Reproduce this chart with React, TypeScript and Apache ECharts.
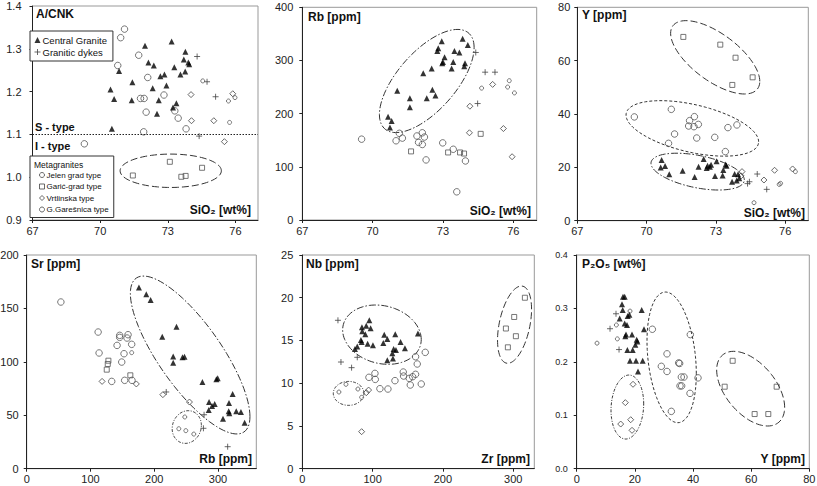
import React, { useEffect, useRef } from "react";
import * as echarts from "echarts";

type Pt = [number, number];
type Ell = [number, number, number, number, number]; // cx, cy, halfX, halfY, corr

// ---------- Panel 1: A/CNK vs SiO2 ----------
const p1Central: Pt[] = [[71.99,1.307],[73.17,1.317],[73.78,1.293],[73.71,1.275],[72.14,1.268],[72.38,1.261],[73.29,1.257],[73.91,1.268],[73.95,1.264],[73.77,1.247],[73.56,1.240],[72.67,1.236],[72.85,1.240],[70.84,1.248],[71.43,1.222],[72.94,1.214],[70.46,1.205],[72.33,1.208],[70.62,1.183],[71.40,1.180],[72.60,1.180],[73.38,1.173],[73.23,1.163],[72.52,1.148],[70.52,1.113]];
const p1Dykes: Pt[] = [[74.30,1.282],[74.74,1.223],[75.12,1.188],[74.39,1.096]];
const p1Jelen: Pt[] = [[71.08,1.346],[70.91,1.326],[71.71,1.285],[70.78,1.261],[72.11,1.233],[71.79,1.184],[71.95,1.184],[72.83,1.192],[72.04,1.152],[73.31,1.155],[73.46,1.138],[73.81,1.113],[71.93,1.106],[69.30,1.078]];
const p1Garic: Pt[] = [[71.45,1.004],[73.09,1.036],[73.60,1.001],[73.79,1.003],[74.52,1.022]];
const p1Vrt: Pt[] = [[74.03,1.193],[74.05,1.132],[75.04,1.132],[75.51,1.083],[75.88,1.195]];
const p1Gares: Pt[] = [[74.55,1.225],[75.69,1.178],[75.98,1.186],[75.74,1.128]];
const p1Ellipses: Ell[] = [[73.13,1.015,2.245,0.039,0]];

// ---------- Panel 2: Rb vs SiO2 ----------
const p2Central: Pt[] = [[73.84,341],[72.95,336],[74.06,329],[72.80,323],[72.76,318],[73.49,318],[73.70,315],[73.07,306],[73.00,297],[72.97,295],[73.44,297],[72.52,285],[73.94,295],[73.91,289],[73.37,285],[72.16,276],[71.05,243],[72.55,245],[72.68,234],[72.31,229],[71.59,229],[71.59,212],[70.66,194],[70.81,186],[70.74,174]];
const p2Dykes: Pt[] = [[74.40,315],[74.80,278],[75.22,278],[74.48,219]];
const p2Jelen: Pt[] = [[69.53,152],[71.14,163],[71.00,149],[71.27,154],[71.89,158],[71.96,146],[72.12,164],[72.21,156],[72.12,142],[72.28,113],[72.99,145],[73.44,133],[73.96,111],[73.59,53]];
const p2Garic: Pt[] = [[71.64,129],[73.22,127],[73.73,127],[73.90,125],[74.61,162]];
const p2Vrt: Pt[] = [[74.15,214],[74.13,164],[75.12,255],[75.58,172],[75.95,119]];
const p2Gares: Pt[] = [[74.65,248],[75.83,262],[75.76,250],[76.05,239]];
const p2Ellipses: Ell[] = [[72.31,261.4,2.02,97,0.65]];

// ---------- Panel 3: Y vs SiO2 ----------
const p3Central: Pt[] = [[70.65,22.75],[70.80,20.5],[70.61,19.9],[70.98,17.4],[71.56,18.75],[72.08,16.4],[72.47,23.1],[72.25,20.25],[72.64,20.6],[72.74,20.25],[72.79,21],[72.60,19.75],[73.03,22.25],[72.96,16.75],[73.32,19],[73.29,16.9],[73.42,21.1],[73.46,20.6],[73.81,17.5],[73.70,14.6],[73.96,17.4],[74.01,15.9],[73.90,15.1]];
const p3Dykes: Pt[] = [[74.79,17.5],[74.45,14.6],[74.37,13.9],[75.20,11.75]];
const p3Jelen: Pt[] = [[69.47,38.9],[71.07,41.75],[71.21,32.5],[70.95,29],[72.07,39],[71.86,37.5],[71.82,35.5],[72.05,35.25],[72.24,36.1],[72.17,31],[72.95,31.25],[73.52,34.9],[73.91,35.9],[73.41,25.9]];
const p3Garic: Pt[] = [[71.59,68.9],[73.19,66.0],[73.85,61.1],[74.59,53.75],[73.71,50.9]];
const p3Vrt: Pt[] = [[74.13,18.4],[74.09,16.8],[75.08,15.25],[75.54,18.9],[76.32,19.4]];
const p3Gares: Pt[] = [[74.65,6.75],[75.74,13.6],[75.80,14.0],[76.44,18.4]];
const p3EllGaric: Ell[] = [[72.97,61.25,1.93,13.75,-0.655]];
const p3EllJelen: Ell[] = [[71.98,34.6,2.87,10.4,-0.48]];
const p3EllCentral: Ell[] = [[72.21,18.4,2.02,6.9,-0.45]];

// ---------- Panel 4: Sr vs Rb ----------
const p4Central: Pt[] = [[176,169.7],[187.5,163.2],[194.3,157.9],[212.5,123.6],[234.9,132.9],[229.7,105.1],[229.7,99.2],[244.3,104.2],[247.4,104.8],[275.5,81.1],[297.4,83.6],[299.5,84.6],[322.9,69.9],[317.2,61.5],[285.9,62.4],[290.6,58.7],[294.8,60.5],[285.4,54.9],[316.7,53.7],[317.7,51.8],[328.6,53.7],[335.9,53.0],[341.7,43.1],[307.8,46.8]];
const p4Dykes: Pt[] = [[218.8,71.8],[278.1,50.5],[277.1,37.8],[315.1,20.6]];
const p4Jelen: Pt[] = [[53.6,156],[112,127.9],[113.5,108.3],[141.7,115.4],[145.8,124.8],[145.8,122.9],[158.9,125.4],[157.3,122.3],[152.6,107.6],[164.6,116.4],[149,99.8],[133.3,81.7],[153.6,82.7],[165.1,82.7]];
const p4Garic: Pt[] = [[128.1,101.1],[127.1,98],[125.5,92.7],[162.5,87.4]];
const p4Vrt: Pt[] = [[118.2,81.7],[171.9,79.3],[213.5,69.3],[255.2,62.4]];
const p4Gares: Pt[] = [[164.6,108.6],[247.9,48.4],[238.5,37.4],[249.5,35.6],[262,32.4]];
const p4EllCentral: Ell[] = [[256.3,106.4,93.75,73.9,-0.78]];
const p4EllGares: Ell[] = [[251,39,22.9,15.3,0.1]];

// ---------- Panel 5: Nb vs Zr ----------
const p5Central: Pt[] = [[95.3,17.36],[84.8,16.54],[85.3,16.07],[91,16.73],[97.2,16.42],[83.4,15.05],[84.4,14.82],[89.6,15.72],[92.9,14.63],[100.5,14.43],[78.2,14.31],[74.9,14.0],[116.6,15.68],[120.9,15.17],[132.2,15.72],[115.2,14.7],[139.8,14.82],[146,14.08],[129.9,14.0],[128,13.5],[128.9,12.9],[120.9,12.7],[164.5,15.83],[133.2,13.9]];
const p5Dykes: Pt[] = [[50.7,17.36],[55,12.48],[70.1,11.82],[78.2,13.03]];
const p5Jelen: Pt[] = [[94.8,10.69],[103.3,11.15],[103.8,10.45],[110.4,9.36],[121.8,9.32],[131.8,10.3],[143.6,11.31],[144.1,10.84],[152.1,10.57],[153.6,9.79],[156.9,10.76],[161.1,11.04],[161.1,13.1],[163.5,12.25],[174.9,13.61],[169.2,9.91]];
const p5Garic: Pt[] = [[316.6,20.0],[301.4,17.75],[289.6,16.4],[303.8,15.5],[292.4,14.2]];
const p5Vrt: Pt[] = [[91,8.89],[94.3,9.2],[84.4,4.33]];
const p5Gares: Pt[] = [[52.1,8.97],[62.1,9.87],[79.1,9.32],[84.4,8.35]];
const p5EllCentral: Ell[] = [[113.3,15.68,55.9,3.47,-0.16]];
const p5EllGaric: Ell[] = [[301.9,16.85,24.2,4.52,0.4]];
const p5EllGares: Ell[] = [[65.9,8.81,21.8,1.4,0]];

// ---------- Panel 6: P2O5 vs Y ----------
const p6Central: Pt[] = [[15.93,0.322],[16.5,0.322],[15.59,0.3076],[15.82,0.297],[22.35,0.297],[14.79,0.281],[17.54,0.286],[18.11,0.288],[16.5,0.272],[17.31,0.269],[23.15,0.261],[19.03,0.251],[16.73,0.248],[16.96,0.251],[20.63,0.2415],[20.86,0.238],[20.17,0.232],[19.26,0.222],[17.42,0.222],[18.34,0.202],[20.4,0.202],[22.69,0.202],[21.09,0.182]];
const p6Dykes: Pt[] = [[11.46,0.262],[13.52,0.29],[14.56,0.223]];
const p6Jelen: Pt[] = [[26.02,0.261],[39.08,0.251],[31.06,0.215],[29.11,0.1916],[31.06,0.182],[35.07,0.198],[35.4,0.197],[35.99,0.1716],[36.9,0.1716],[35.53,0.155],[36.1,0.155],[41.72,0.17],[38.97,0.141],[32.55,0.1073]];
const p6Garic: Pt[] = [[53.64,0.202],[50.89,0.1535],[68.77,0.1535],[61.2,0.1023],[65.9,0.1023]];
const p6Vrt: Pt[] = [[19.37,0.158],[16.73,0.1236],[18.57,0.0917],[15.13,0.0836],[19.03,0.0718]];
const p6Gares: Pt[] = [[6.99,0.235],[13.64,0.269],[13.98,0.243],[18.34,0.295]];
const p6EllVrt: Ell[] = [[17.42,0.1154,5.62,0.0599,0.1]];
const p6EllJelen: Ell[] = [[32.66,0.2084,8.48,0.1223,-0.25]];
const p6EllGaric: Ell[] = [[59.83,0.1498,11.69,0.0699,-0.5]];

// ---------- tick labels ----------
const sio2Ticks = [67, 70, 73, 76];
const rbTicks = [0, 100, 200, 300];
const zrTicks = [0, 100, 200, 300];
const yTicks6 = [0, 20, 40, 60, 80];

const FONT = "'Liberation Sans', Arial, Helvetica, sans-serif";
const PLUS = "path://M0,5H10M5,0V10";

const NAMES = {
  central: "Central Granite",
  dykes: "Granitic dykes",
  jelen: "Jelen grad type",
  garic: "Garić-grad type",
  vrt: "Vrtlinska type",
  gares: "G.Garešnica type",
};

const STYLE: Record<string, any> = {
  central: { symbol: "triangle", symbolSize: 6, itemStyle: { color: "#000", borderWidth: 0 } },
  dykes: { symbol: PLUS, symbolSize: 6, itemStyle: { color: "transparent", borderColor: "#444", borderWidth: 1 } },
  jelen: { symbol: "circle", symbolSize: 6.5, itemStyle: { color: "transparent", borderColor: "#555", borderWidth: 1 } },
  garic: { symbol: "rect", symbolSize: 5, itemStyle: { color: "transparent", borderColor: "#555", borderWidth: 1 } },
  vrt: { symbol: "diamond", symbolSize: 6, itemStyle: { color: "transparent", borderColor: "#444", borderWidth: 1 } },
  gares: { symbol: "circle", symbolSize: 4, itemStyle: { color: "transparent", borderColor: "#555", borderWidth: 1 } },
};

const DASH_LONG = [7, 3];
const DASH_SHORT = [3, 2];
const DASH_DOT = [7, 2, 1.5, 2];
const DASH_DOT2 = [3, 1.5, 1, 1.5];

function scatter(key: string, data: Pt[], gi: number, extra: any = {}) {
  return {
    type: "scatter",
    name: (NAMES as any)[key],
    xAxisIndex: gi,
    yAxisIndex: gi,
    data,
    ...STYLE[key],
    emphasis: { disabled: true },
    z: key === "central" ? 3 : 2,
    ...extra,
  };
}

function ellipse(data: Ell[], gi: number, dash: number[]) {
  return {
    type: "custom",
    xAxisIndex: gi,
    yAxisIndex: gi,
    data,
    silent: true,
    z: 1,
    renderItem: (params: any, api: any) => {
      const cx = api.value(0), cy = api.value(1), hx = api.value(2), hy = api.value(3), r = api.value(4);
      const s = Math.sqrt(1 - r * r);
      const pts: number[][] = [];
      for (let i = 0; i <= 96; i++) {
        const t = (2 * Math.PI * i) / 96;
        pts.push(api.coord([cx + hx * Math.cos(t), cy + hy * (r * Math.cos(t) + s * Math.sin(t))]));
      }
      return {
        type: "polyline",
        shape: { points: pts },
        style: { fill: "none", stroke: "#333", lineWidth: 1, lineDash: dash },
      };
    },
  };
}

const grids = [
  { left: 32.5, top: 6, width: 225.5, height: 214 },
  { left: 302.3, top: 7.3, width: 234.4, height: 212.7 },
  { left: 577.3, top: 7.3, width: 231, height: 213.4 },
  { left: 26.7, top: 255, width: 229.6, height: 213.7 },
  { left: 302.3, top: 255, width: 232, height: 213.7 },
  { left: 576.7, top: 255, width: 232.6, height: 213.7 },
];

function xAxis(gi: number, min: number, max: number, interval: number, ticks: number[]) {
  return {
    type: "value",
    gridIndex: gi,
    min,
    max,
    interval,
    axisLine: { show: true, onZero: false, lineStyle: { color: "#222", width: 1 } },
    axisTick: { show: true, length: 3, customValues: ticks, lineStyle: { color: "#222" } },
    axisLabel: { customValues: ticks, fontSize: 11, color: "#222", fontFamily: FONT, margin: 5 },
    splitLine: { show: false },
  };
}

function yAxis(gi: number, min: number, max: number, interval: number, opts: any = {}) {
  return {
    type: "value",
    gridIndex: gi,
    min,
    max,
    interval,
    axisLine: { show: true, onZero: false, lineStyle: { color: "#222", width: 1 } },
    axisTick: { show: true, length: 3, lineStyle: { color: "#222" } },
    axisLabel: {
      fontSize: opts.fontSize || 11,
      color: "#222",
      fontFamily: FONT,
      margin: opts.margin || 8,
      formatter: opts.formatter,
    },
    splitLine: { show: false },
  };
}

function label(text: string, x: number, y: number, align: string = "left", size = 12) {
  return {
    type: "text",
    x,
    y,
    z: 100,
    style: {
      text,
      fontSize: size,
      fontWeight: "bold",
      fontFamily: FONT,
      fill: "#111",
      align,
      verticalAlign: "middle",
    },
  };
}

const fix1 = (v: number) => v.toFixed(1);

export default function App() {
  const ref = useRef<HTMLDivElement>(null);
  useEffect(() => {
    if (!ref.current) return;
    const chart = echarts.init(ref.current, undefined, { renderer: "svg" });
    const series: any[] = [
      // panel 1
      scatter("central", p1Central, 0, {
        markLine: {
          silent: true,
          symbol: ["none", "none"],
          label: { show: false },
          lineStyle: { type: [1.5, 1.5], color: "#222", width: 1 },
          data: [{ yAxis: 1.1 }],
        },
      }),
      scatter("dykes", p1Dykes, 0),
      scatter("jelen", p1Jelen, 0),
      scatter("garic", p1Garic, 0),
      scatter("vrt", p1Vrt, 0),
      scatter("gares", p1Gares, 0),
      ellipse(p1Ellipses, 0, DASH_LONG),
      // panel 2
      scatter("central", p2Central, 1),
      scatter("dykes", p2Dykes, 1),
      scatter("jelen", p2Jelen, 1),
      scatter("garic", p2Garic, 1),
      scatter("vrt", p2Vrt, 1),
      scatter("gares", p2Gares, 1),
      ellipse(p2Ellipses, 1, DASH_DOT),
      // panel 3
      scatter("central", p3Central, 2),
      scatter("dykes", p3Dykes, 2),
      scatter("jelen", p3Jelen, 2),
      scatter("garic", p3Garic, 2),
      scatter("vrt", p3Vrt, 2),
      scatter("gares", p3Gares, 2),
      ellipse(p3EllGaric, 2, DASH_LONG),
      ellipse(p3EllJelen, 2, DASH_SHORT),
      ellipse(p3EllCentral, 2, DASH_DOT),
      // panel 4
      scatter("central", p4Central, 3),
      scatter("dykes", p4Dykes, 3),
      scatter("jelen", p4Jelen, 3),
      scatter("garic", p4Garic, 3),
      scatter("vrt", p4Vrt, 3),
      scatter("gares", p4Gares, 3),
      ellipse(p4EllCentral, 3, DASH_DOT),
      ellipse(p4EllGares, 3, DASH_DOT2),
      // panel 5
      scatter("central", p5Central, 4),
      scatter("dykes", p5Dykes, 4),
      scatter("jelen", p5Jelen, 4),
      scatter("garic", p5Garic, 4),
      scatter("vrt", p5Vrt, 4),
      scatter("gares", p5Gares, 4),
      ellipse(p5EllCentral, 4, DASH_DOT),
      ellipse(p5EllGaric, 4, DASH_LONG),
      ellipse(p5EllGares, 4, DASH_DOT2),
      // panel 6
      scatter("central", p6Central, 5),
      scatter("dykes", p6Dykes, 5),
      scatter("jelen", p6Jelen, 5),
      scatter("garic", p6Garic, 5),
      scatter("vrt", p6Vrt, 5),
      scatter("gares", p6Gares, 5),
      ellipse(p6EllVrt, 5, DASH_DOT2),
      ellipse(p6EllJelen, 5, DASH_SHORT),
      ellipse(p6EllGaric, 5, DASH_LONG),
    ];

    const openStyle = { color: "transparent", borderColor: "#444", borderWidth: 1 };

    chart.setOption({
      animation: false,
      backgroundColor: "#fff",
      grid: grids.map((g) => ({
        ...g,
        show: true,
        borderColor: "#999",
        borderWidth: 1,
        backgroundColor: "transparent",
        containLabel: false,
        outerBoundsMode: "none",
      })),
      xAxis: [
        xAxis(0, 67, 77, 1, sio2Ticks),
        xAxis(1, 67, 77, 1, sio2Ticks),
        xAxis(2, 67, 77, 1, sio2Ticks),
        xAxis(3, 0, 360, 20, rbTicks),
        xAxis(4, 0, 330, 10, zrTicks),
        xAxis(5, 0, 80, 20, yTicks6),
      ],
      yAxis: [
        yAxis(0, 0.9, 1.4, 0.1, { formatter: fix1, margin: 11 }),
        yAxis(1, 0, 400, 100, { margin: 9 }),
        yAxis(2, 0, 80, 20, { margin: 7 }),
        yAxis(3, 0, 200, 50, { margin: 8 }),
        yAxis(4, 0, 25, 5, { margin: 9 }),
        yAxis(5, 0, 0.4, 0.1, { formatter: fix1, fontSize: 9, margin: 9 }),
      ],
      legend: [
        {
          orient: "vertical",
          left: 30,
          top: 31,
          padding: [4, 6, 4, 4],
          itemWidth: 6,
          itemHeight: 6,
          itemGap: 2,
          borderColor: "#333",
          borderWidth: 1,
          backgroundColor: "#fff",
          selectedMode: false,
          textStyle: { fontSize: 9.5, fontFamily: FONT, color: "#111", lineHeight: 10, padding: [0, 0, 0, -3] },
          data: [
            { name: NAMES.central, icon: "triangle", itemStyle: { color: "#000", borderWidth: 0 } },
            { name: NAMES.dykes, icon: PLUS, itemStyle: openStyle },
          ],
        },
        {
          orient: "vertical",
          left: 30,
          top: 156,
          padding: [14, 5, 3, 9],
          itemWidth: 5,
          itemHeight: 5,
          itemGap: 1.5,
          borderColor: "#333",
          borderWidth: 1,
          backgroundColor: "#fff",
          selectedMode: false,
          textStyle: { fontSize: 8, fontFamily: FONT, color: "#111", lineHeight: 10, padding: [0, 0, 0, -3] },
          data: [
            { name: NAMES.jelen, icon: "circle", itemStyle: openStyle },
            { name: NAMES.garic, icon: "rect", itemStyle: openStyle },
            { name: NAMES.vrt, icon: "diamond", itemStyle: openStyle },
            { name: NAMES.gares, icon: "circle", itemStyle: openStyle },
          ],
        },
      ],
      graphic: [
        label("A/CNK", 36, 14),
        label("SiO₂ [wt%]", 251, 209.5, "right"),
        label("S - type", 35, 127, "left", 11),
        label("I - type", 35, 145.5, "left", 11),
        {
          type: "text",
          x: 34,
          y: 164.5,
          z: 100,
          style: { text: "Metagranites", fontSize: 8.5, fontFamily: FONT, fill: "#111", verticalAlign: "middle" },
        },
        label("Rb [ppm]", 308, 16.5),
        label("SiO₂ [wt%]", 531, 210.5, "right"),
        label("Y [ppm]", 582, 15),
        label("SiO₂ [wt%]", 805, 213, "right"),
        label("Sr [ppm]", 31, 263.5),
        label("Rb [ppm]", 252, 458.5, "right"),
        label("Nb [ppm]", 306, 264),
        label("Zr [ppm]", 530, 458.5, "right"),
        label("P₂O₅ [wt%]", 582, 264),
        label("Y [ppm]", 805, 458.5, "right"),
      ],
      series,
    });
    return () => chart.dispose();
  }, []);
  return (
    <div
      ref={ref}
      style={{ position: "absolute", left: 0, top: 0, width: 817, height: 486, background: "#fff" }}
    />
  );
}
